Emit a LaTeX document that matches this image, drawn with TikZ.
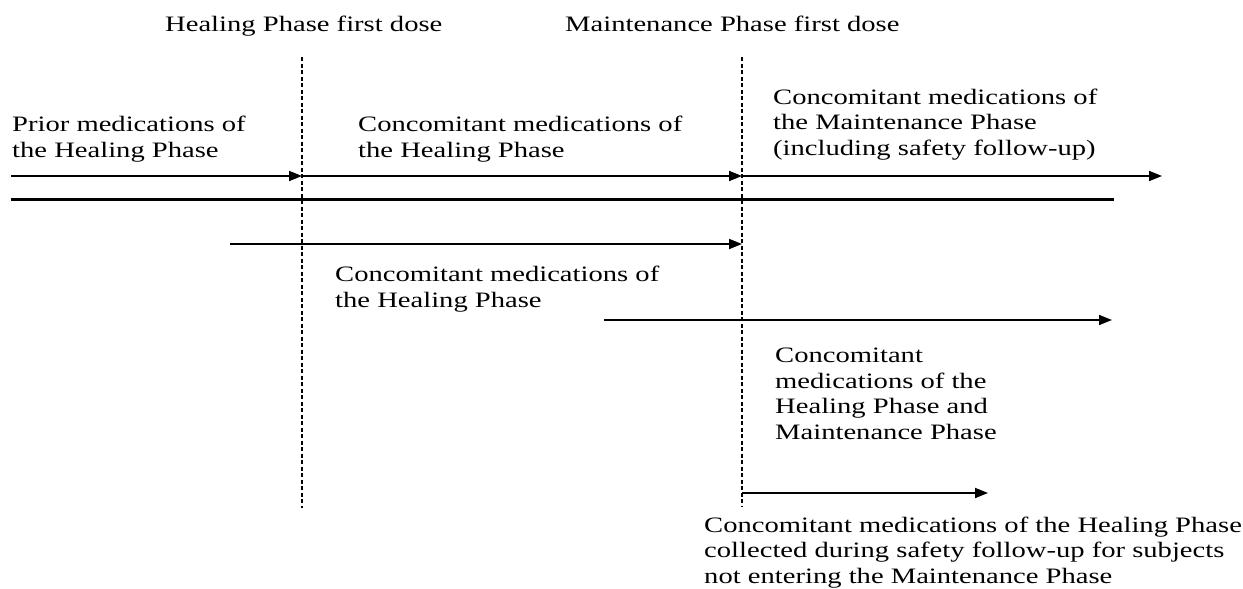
\documentclass[tikz,border=0pt]{standalone}
\usepackage{fontspec}
\setmainfont{Liberation Serif}[FakeStretch=1.3]
\usetikzlibrary{arrows.meta}
\begin{document}
\begin{tikzpicture}[x=1pt,y=-1pt,
  lbl/.style={anchor=base west,inner sep=0pt,align=left,font=\fontsize{22}{25.5}\selectfont},
  phase/.style={draw,line width=1.2pt,dash pattern=on 4pt off 2.5pt},
  conn/.style={draw,line width=1.8pt,-{Triangle[length=13pt,width=10pt]}},
  base/.style={draw,line width=3pt}]
\useasboundingbox (0,0) rectangle (1243,589);
% titles
\node[lbl] (t1) at (165,31) {Healing Phase first dose};
\node[lbl] (t2) at (565,31) {Maintenance Phase first dose};
% phase markers
\coordinate (h0) at (302,57);
\coordinate (h1) at (302,508);
\coordinate (m0) at (742,57);
\coordinate (m1) at (742,507);
\draw[phase] (h0) -- (h1);
\draw[phase] (m0) -- (m1);
% timeline row
\coordinate (r0) at (11,176);
\coordinate (r1) at (302,176);
\coordinate (r2) at (742,176);
\coordinate (r3) at (1162,176);
\draw[conn] (r0) -- (r1);
\draw[conn] (r1) -- (r2);
\draw[conn] (r2) -- (r3);
\coordinate (b0) at (11,199);
\coordinate (b1) at (1114,199);
\draw[base] (b0) -- (b1);
% other arrows
\coordinate (a0) at (230,244);
\coordinate (a1) at (742,244);
\draw[conn] (a0) -- (a1);
\coordinate (c0) at (604,320);
\coordinate (c1) at (1112,320);
\draw[conn] (c0) -- (c1);
\coordinate (d0) at (742,493);
\coordinate (d1) at (988,493);
\draw[conn] (d0) -- (d1);
% labels (anchor = baseline of last line)
\node[lbl] (p) at (12,157) {Prior medications of\\the Healing Phase};
\node[lbl] (hc) at (358,157) {Concomitant medications of\\the Healing Phase};
\node[lbl] (mc) at (773,155) {Concomitant medications of\\the Maintenance Phase\\(including safety follow-up)};
\node[lbl] (hc2) at (335,307) {Concomitant medications of\\the Healing Phase};
\node[lbl] (hm) at (775,439) {Concomitant\\medications of the\\Healing Phase and\\Maintenance Phase};
\node[lbl] (sf) at (704,583) {Concomitant medications of the Healing Phase\\collected during safety follow-up for subjects\\not entering the Maintenance Phase};
\end{tikzpicture}
\end{document}
